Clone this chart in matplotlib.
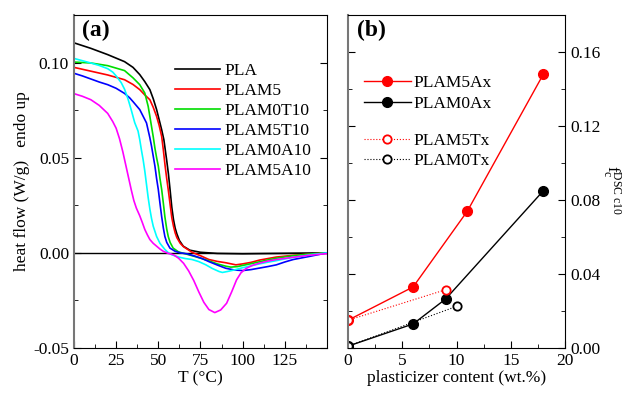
import numpy as np
import matplotlib
matplotlib.use("Agg")
import matplotlib.pyplot as plt
from matplotlib.ticker import MultipleLocator

plt.rcParams['font.family'] = ['Liberation Serif', 'DejaVu Serif']
plt.rcParams['mathtext.fontset'] = 'custom'
plt.rcParams['mathtext.rm'] = 'Liberation Serif'
plt.rcParams['mathtext.it'] = 'Liberation Serif:italic'

## (a) DSC curves
T_pla = [0, 10, 20, 30, 35, 39, 42, 45, 47, 49, 50.5, 52, 53.3, 54, 55, 56, 57, 58, 59, 60, 61, 62.5, 64.8, 68.7, 75, 85, 100,
         120, 150]
hf_pla = [0.1104, 0.1075, 0.1042, 0.1005, 0.0975, 0.0937, 0.090, 0.0858, 0.081, 0.0753, 0.070, 0.0647, 0.0595, 0.055, 0.0485,
          0.0415, 0.033, 0.024, 0.0175, 0.013, 0.010, 0.0065, 0.0035, 0.0014, 0.0003, -0.0003, -0.0005, -0.0003, 0.0]

T_m5 = [0, 10, 20, 30, 35, 39, 42, 45, 47, 49, 50.5, 52, 53, 54, 55, 56, 57, 58, 59, 60, 61, 63, 65, 70, 75, 80, 85, 90, 96, 100,
        105, 110, 115, 120, 130, 140, 150]
hf_m5 = [0.0975, 0.0955, 0.0935, 0.091, 0.0885, 0.0858, 0.083, 0.0805, 0.0765, 0.0717, 0.067, 0.0612, 0.054, 0.046, 0.039,
         0.0325, 0.0255, 0.0185, 0.014, 0.0105, 0.008, 0.005, 0.0032, 0.0003, -0.0015, -0.0035, -0.0045, -0.0052, -0.0063,
         -0.0058, -0.005, -0.0038, -0.003, -0.0022, -0.0013, -0.0006, 0.0]

T_0t = [0, 10, 20, 30, 35, 39, 42, 44, 45, 47, 48, 49, 50, 51, 52, 53, 53.9, 55, 55.9, 57, 58.8, 62, 66, 70, 75, 80, 85, 90, 93,
        97, 100, 105, 110, 115, 120, 130, 140, 150]
hf_0t = [0.1003, 0.0998, 0.0984, 0.0958, 0.092, 0.0884, 0.084, 0.077, 0.0717, 0.061, 0.055, 0.050, 0.0456, 0.039, 0.0333,
         0.026, 0.019, 0.0125, 0.0086, 0.0055, 0.0025, 0.0005, -0.0005, -0.0015, -0.0028, -0.0042, -0.0058, -0.007, -0.0075,
         -0.0072, -0.0066, -0.0057, -0.0047, -0.0037, -0.0028, -0.0015, -0.0006, 0.0]

T_5t = [0, 5, 10, 15, 20, 25, 30, 33, 35, 39, 43, 45, 46, 48, 49, 50, 51, 52, 53, 53.9, 55, 56.9, 60, 63, 67, 72, 76, 80, 85, 90,
        95, 100, 105, 110, 115, 120, 125, 130, 140, 150]
hf_5t = [0.0944, 0.093, 0.0914, 0.0898, 0.0884, 0.0865, 0.0838, 0.0815, 0.0795, 0.0753, 0.0683, 0.0605, 0.056, 0.0456, 0.039,
         0.0333, 0.026, 0.019, 0.013, 0.0086, 0.0055, 0.0025, 0.0008, 0.0, -0.0005, -0.0018, -0.003, -0.0046, -0.0064,
         -0.0081, -0.009, -0.0093, -0.0088, -0.008, -0.0072, -0.0063, -0.0048, -0.0035, -0.0018, 0.0]

T_0a = [0, 5, 10, 15, 20, 23, 25, 28, 30, 32, 34, 36, 38, 39, 40, 41, 42, 43, 44, 45, 46, 47, 49, 51, 53.9, 56, 58, 62, 66, 70,
        74, 78, 82, 86, 88, 91, 95, 100, 105, 110, 115, 120, 125, 130, 140, 150]
hf_0a = [0.1022, 0.101, 0.0998, 0.0985, 0.0968, 0.095, 0.093, 0.0895, 0.086, 0.081, 0.075, 0.0685, 0.064, 0.0595, 0.054, 0.049,
         0.043, 0.036, 0.029, 0.023, 0.018, 0.014, 0.0086, 0.005, 0.0018, 0.0, -0.001, -0.0022, -0.003, -0.0035, -0.0046,
         -0.0062, -0.0082, -0.0098, -0.0103, -0.0098, -0.009, -0.0078, -0.0068, -0.0058, -0.0049, -0.0041, -0.0032, -0.0024,
         -0.001, 0.0]

T_5a = [0, 5, 10, 15, 20, 23, 25, 27, 29, 30, 32, 34, 35.5, 37, 39, 40.5, 42, 43.5, 45, 47, 49, 51, 53, 56, 59, 62, 65, 68, 71,
        74, 77, 80, 83.5, 87, 90.5, 93.5, 96.4, 99, 102, 106, 110, 115, 120, 130, 140, 150]
hf_5a = [0.0837, 0.0823, 0.0805, 0.0775, 0.0733, 0.069, 0.0655, 0.060, 0.053, 0.049, 0.041, 0.033, 0.0275, 0.0235, 0.0195,
         0.016, 0.0123, 0.0095, 0.007, 0.005, 0.0035, 0.002, 0.0008, -0.0003, -0.001, -0.0028, -0.0055, -0.0095, -0.0145,
         -0.0205, -0.026, -0.0298, -0.0314, -0.030, -0.0265, -0.0205, -0.0142, -0.0105, -0.0082, -0.0065, -0.0054, -0.0043,
         -0.0035, -0.0023, -0.0012, -0.0004]

## (b) crystallinity vs plasticizer content
x_5ax = [0, 6, 11, 18]
y_5ax = [0.015, 0.033, 0.074, 0.148]
x_0ax = [0, 6, 9, 18]
y_0ax = [0.001, 0.013, 0.0265, 0.085]
x_5tx = [0, 9]
y_5tx = [0.015, 0.0315]
x_0tx = [0, 10]
y_0tx = [0.001, 0.0225]

fs = 12.5
fig = plt.figure(figsize=(6.29, 3.94), dpi=100)
ax1 = fig.add_axes([0.1176, 0.1168, 0.4022, 0.845])
ax2 = fig.add_axes([0.5533, 0.1168, 0.345, 0.845])

curves = [(T_pla, hf_pla, 'black', 'PLA'),
          (T_m5, hf_m5, '#ff0000', 'PLAM5'),
          (T_0t, hf_0t, '#00dd00', 'PLAM0T10'),
          (T_5t, hf_5t, '#0000ff', 'PLAM5T10'),
          (T_0a, hf_0a, '#00ffff', 'PLAM0A10'),
          (T_5a, hf_5a, '#ff00ff', 'PLAM5A10')]
ax1.axhline(0, color='black', lw=1.0)
for T, hf, c, lab in curves:
    ax1.plot(T, hf, color=c, lw=1.2, label=lab)
ax1.set_xlim(0, 150)
ax1.set_ylim(-0.05, 0.125)
ax1.xaxis.set_minor_locator(MultipleLocator(12.5))
ax1.yaxis.set_minor_locator(MultipleLocator(0.025))
ax1.set_xticks([0, 25, 50, 75, 100, 125])
ax1.set_yticks([-0.05, 0.0, 0.05, 0.10])
ax1.set_yticklabels(['-0.05', '0.00', '0.05', '0.10'])
ax1.tick_params(which='both', direction='in', right=True, labelsize=fs)
ax1.tick_params(which='major', length=5)
ax1.tick_params(which='minor', length=3)
ax1.set_xlabel('T (°C)', fontsize=fs, labelpad=1)
ax1.set_ylabel('heat flow (W/g)   endo up', fontsize=fs, labelpad=2)
ax1.spines['left'].set_color('#777777')
ax1.spines['left'].set_linewidth(1.5)
ax1.text(0.03, 0.985, '(a)', transform=ax1.transAxes, fontsize=17, fontweight='bold', va='top', ha='left')
ax1.legend(loc='upper left', bbox_to_anchor=(0.372, 0.877), frameon=False, fontsize=fs, handlelength=2.6,
           handletextpad=0.23, labelspacing=0.22, borderaxespad=0)

h1, = ax2.plot(x_5ax, y_5ax, color='#ff0000', lw=1.0, marker='o', ms=7, mfc='#ff0000', mec='#ff0000')
h2, = ax2.plot(x_0ax, y_0ax, color='black', lw=1.0, marker='o', ms=7, mfc='black', mec='black')
h3, = ax2.plot(x_5tx, y_5tx, color='#ff0000', lw=0.8, ls=':', marker='o', ms=6, mfc='white', mec='#ff0000', mew=1.3)
h4, = ax2.plot(x_0tx, y_0tx, color='black', lw=0.8, ls=':', marker='o', ms=6, mfc='white', mec='black', mew=1.3)
ax2.set_xlim(0, 20)
ax2.set_ylim(0, 0.18)
ax2.xaxis.set_major_locator(MultipleLocator(5))
ax2.xaxis.set_minor_locator(MultipleLocator(2.5))
ax2.yaxis.set_minor_locator(MultipleLocator(0.02))
ax2.yaxis.tick_right()
ax2.set_yticks([0, 0.04, 0.08, 0.12, 0.16])
ax2.set_yticklabels(['0.00', '0.04', '0.08', '0.12', '0.16'])
ax2.tick_params(which='both', direction='in', left=True, right=True, labelsize=fs)
ax2.tick_params(which='major', length=5)
ax2.tick_params(which='minor', length=3)
ax2.set_xlabel('plasticizer content (wt.%)', fontsize=fs, labelpad=1)
fig.text(612 / 629, 1 - 190 / 394, r'$\mathrm{f}_{\rm c}^{\rm DSC\ c10}$', fontsize=12, rotation=-90,
         ha='center', va='center')
ax2.spines['left'].set_color('#777777')
ax2.spines['left'].set_linewidth(1.5)
ax2.text(0.04, 0.985, '(b)', transform=ax2.transAxes, fontsize=17, fontweight='bold', va='top', ha='left')
leg1 = ax2.legend([h1, h2], ['PLAM5Ax', 'PLAM0Ax'], loc='upper left', bbox_to_anchor=(0.04, 0.84), frameon=False,
                  fontsize=fs, handlelength=2.7, handletextpad=0.17, labelspacing=0.25, borderaxespad=0)
ax2.add_artist(leg1)
ax2.legend([h3, h4], ['PLAM5Tx', 'PLAM0Tx'], loc='upper left', bbox_to_anchor=(0.04, 0.668), frameon=False,
           fontsize=fs, handlelength=2.7, handletextpad=0.17, labelspacing=0.25, borderaxespad=0)

fig.savefig('out.png', dpi=100)
